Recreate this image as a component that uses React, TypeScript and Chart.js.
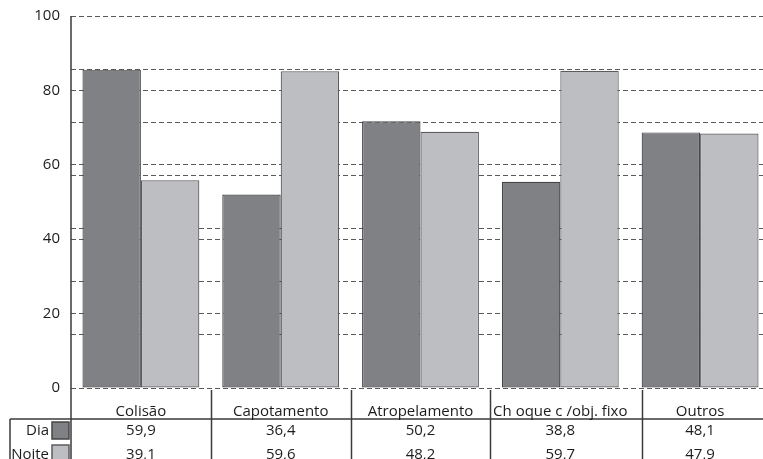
import React, { useEffect, useRef } from "react";
import { Chart, registerables } from "chart.js";

Chart.register(...registerables);

// Accident types and share (%) by period of day
const categories = ["Colisão", "Capotamento", "Atropelamento", "Ch oque c /obj. fixo", "Outros"];
const diaValues = [59.9, 36.4, 50.2, 38.8, 48.1];
const noiteValues = [39.1, 59.6, 48.2, 59.7, 47.9];
const seriesNames = ["Dia", "Noite"];
// Printed scale on the left and the scale the bars are plotted against
const axisTicks = [0, 20, 40, 60, 80, 100];
const barScaleMax = 70;
const barScaleStep = 10;

const DARK = "#808184";
const DARK_EDGE = "#454547";
const LIGHT = "#bdbec2";
const LIGHT_EDGE = "#5c5c5e";
const GRID = "#5a5a5a";
const INK = "#1c1c1c";
const FONT = "'Open Sans', sans-serif";

const fmt = (v: number) => v.toFixed(1).replace(".", ",");

const tablePlugin = {
  id: "dataTable",
  afterDraw(chart: any) {
    const { ctx, chartArea, width, height } = chart;
    const xs = chart.scales.x;
    const bottom = chartArea.bottom;
    const headerLine = bottom + 31;
    const left = chartArea.left;
    const tableLeft = 10;

    ctx.save();
    ctx.strokeStyle = "#3a3a3a";
    ctx.lineWidth = 1.5;

    // vertical axis line, running down through the table
    ctx.beginPath();
    ctx.moveTo(left, chartArea.top);
    ctx.lineTo(left, height);
    ctx.stroke();

    // column separators
    const metaDia = chart.getDatasetMeta(0);
    const seps: number[] = [];
    for (let i = 0; i < categories.length - 1; i++) {
      if (i === categories.length - 2) {
        const bar = metaDia.data[i + 1];
        seps.push(bar.x - bar.width / 2);
      } else {
        seps.push((xs.getPixelForValue(i) + xs.getPixelForValue(i + 1)) / 2);
      }
    }
    seps.forEach((sx) => {
      ctx.beginPath();
      ctx.moveTo(Math.round(sx) + 0.5, bottom + 2);
      ctx.lineTo(Math.round(sx) + 0.5, height);
      ctx.stroke();
    });

    // header rule and left border
    ctx.beginPath();
    ctx.moveTo(tableLeft, headerLine);
    ctx.lineTo(width, headerLine);
    ctx.stroke();
    ctx.beginPath();
    ctx.moveTo(tableLeft, headerLine);
    ctx.lineTo(tableLeft, height);
    ctx.stroke();

    ctx.fillStyle = INK;
    ctx.font = `15px ${FONT}`;
    ctx.textBaseline = "alphabetic";
    ctx.textAlign = "center";

    categories.forEach((c, i) => {
      ctx.fillText(c, xs.getPixelForValue(i), bottom + 28);
    });

    const rows = [diaValues, noiteValues];
    const rowBase = [headerLine + 16, headerLine + 40];
    rows.forEach((vals, r) => {
      ctx.textAlign = "center";
      ctx.fillStyle = INK;
      vals.forEach((v, i) => {
        ctx.fillText(fmt(v), xs.getPixelForValue(i), rowBase[r]);
      });
      // row label with legend swatch
      ctx.textAlign = "right";
      ctx.fillText(seriesNames[r], left - 22, rowBase[r]);
      const sy = headerLine + 3 + r * 23;
      ctx.fillStyle = r === 0 ? DARK : LIGHT;
      ctx.fillRect(left - 19, sy, 17, 17);
      ctx.strokeStyle = r === 0 ? DARK_EDGE : LIGHT_EDGE;
      ctx.lineWidth = 1.5;
      ctx.strokeRect(left - 19, sy, 17, 17);
    });
    ctx.restore();
  },
};

export default function App() {
  const ref = useRef<HTMLCanvasElement | null>(null);

  useEffect(() => {
    document.body.style.margin = "0";
    const canvas = ref.current;
    if (!canvas) return;
    const chart = new Chart(canvas, {
      type: "bar",
      data: {
        labels: categories,
        datasets: [
          {
            label: seriesNames[0],
            data: diaValues,
            backgroundColor: DARK,
            borderColor: DARK_EDGE,
            borderWidth: 1.2,
            borderSkipped: false,
            yAxisID: "yBars",
          },
          {
            label: seriesNames[1],
            data: noiteValues,
            backgroundColor: LIGHT,
            borderColor: LIGHT_EDGE,
            borderWidth: 1.2,
            borderSkipped: false,
            yAxisID: "yBars",
          },
        ],
      },
      options: {
        responsive: false,
        animation: false,
        devicePixelRatio: 1,
        layout: { padding: { top: 16, bottom: 71, right: 1, left: 0 } },
        plugins: { legend: { display: false }, tooltip: { enabled: false } },
        datasets: { bar: { barPercentage: 1, categoryPercentage: 0.836 } },
        scales: {
          x: { display: false },
          y: {
            position: "left",
            min: 0,
            max: 100,
            afterBuildTicks: (s: any) => {
              s.ticks = axisTicks.map((v) => ({ value: v }));
            },
            afterFit: (s: any) => {
              s.width = 71;
              s.paddingTop = 0;
              s.paddingBottom = 0;
            },
            ticks: {
              padding: 11,
              color: INK,
              font: { family: FONT, size: 15 },
            },
            grid: { color: GRID, lineWidth: 1, drawTicks: false },
            border: { display: false, dash: [5, 3] },
          },
          yBars: {
            position: "left",
            min: 0,
            max: barScaleMax,
            ticks: { display: false, stepSize: barScaleStep },
            afterFit: (s: any) => {
              s.width = 0;
              s.paddingTop = 0;
              s.paddingBottom = 0;
            },
            grid: { color: GRID, lineWidth: 1, drawTicks: false },
            border: { display: false, dash: [5, 3] },
          },
        },
      },
      plugins: [tablePlugin],
    });
    return () => chart.destroy();
  }, []);

  return (
    <div style={{ position: "absolute", left: 0, top: 0, width: 763, height: 459, overflow: "hidden", background: "#fff" }}>
      <canvas ref={ref} width={771} height={459} style={{ display: "block" }} />
    </div>
  );
}
